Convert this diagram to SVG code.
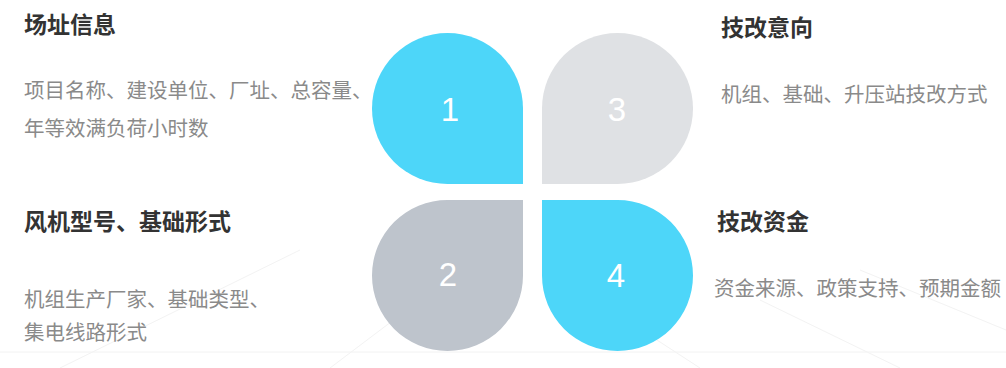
<svg xmlns="http://www.w3.org/2000/svg" width="1006" height="368" viewBox="0 0 1006 368">
  <style>
    .title { font-family: "Noto Sans CJK SC", "Noto Sans", sans-serif; font-size: 23px; font-weight: bold; fill: #333333; }
    .desc { font-family: "Noto Sans CJK SC", "Noto Sans", sans-serif; font-size: 20.5px; fill: #8a8a8a; }
    .num { font-family: "Liberation Sans", Arial, sans-serif; font-size: 33px; fill: #ffffff; text-anchor: middle; }
    .blue { fill: #4dd6f9; }
    .light { fill: #dfe1e4; }
    .dark { fill: #bec4cc; }
    .bgline { stroke: #eeeeee; stroke-width: 1; fill: none; }
  </style>
  <rect width="1006" height="368" fill="#ffffff"/>
  <g id="background" opacity="0.7">
    <line class="bgline" x1="0" y1="352" x2="1006" y2="352"/>
    <line class="bgline" x1="60" y1="368" x2="300" y2="250"/>
    <line class="bgline" x1="330" y1="368" x2="420" y2="300"/>
    <line class="bgline" x1="700" y1="368" x2="580" y2="290"/>
    <line class="bgline" x1="900" y1="368" x2="760" y2="300"/>
    <line class="bgline" x1="1006" y1="330" x2="860" y2="270"/>
  </g>
  <g id="connectors"></g>
  <g id="node1">
    <path class="blue" d="M523 184 L447.5 184 A75.5 75.5 0 0 1 372 108.5 A75.5 75.5 0 0 1 447.5 33 A75.5 75.5 0 0 1 523 108.5 Z"/>
    <text class="num" x="450" y="121">1</text>
    <text class="title" x="24" y="33">场址信息</text>
    <text class="desc" x="24" y="98">项目名称、建设单位、厂址、总容量、</text>
    <text class="desc" x="24" y="136">年等效满负荷小时数</text>
  </g>
  <g id="node2">
    <path class="dark" d="M523 200 L523 275.5 A75.5 75.5 0 0 1 447.5 351 A75.5 75.5 0 0 1 372 275.5 A75.5 75.5 0 0 1 447.5 200 Z"/>
    <text class="num" x="448" y="286">2</text>
    <text class="title" x="24" y="230">风机型号、基础形式</text>
    <text class="desc" x="24" y="307">机组生产厂家、基础类型、</text>
    <text class="desc" x="24" y="340">集电线路形式</text>
  </g>
  <g id="node3">
    <path class="light" d="M542 184 L542 108.5 A75.5 75.5 0 0 1 617.5 33 A75.5 75.5 0 0 1 693 108.5 A75.5 75.5 0 0 1 617.5 184 Z"/>
    <text class="num" x="617" y="121">3</text>
    <text class="title" x="721" y="36">技改意向</text>
    <text class="desc" x="721" y="102">机组、基础、升压站技改方式</text>
  </g>
  <g id="node4">
    <path class="blue" d="M542 200 L617.5 200 A75.5 75.5 0 0 1 693 275.5 A75.5 75.5 0 0 1 617.5 351 A75.5 75.5 0 0 1 542 275.5 Z"/>
    <text class="num" x="616" y="287">4</text>
    <text class="title" x="717" y="230">技改资金</text>
    <text class="desc" x="714" y="296">资金来源、政策支持、预期金额</text>
  </g>
</svg>
